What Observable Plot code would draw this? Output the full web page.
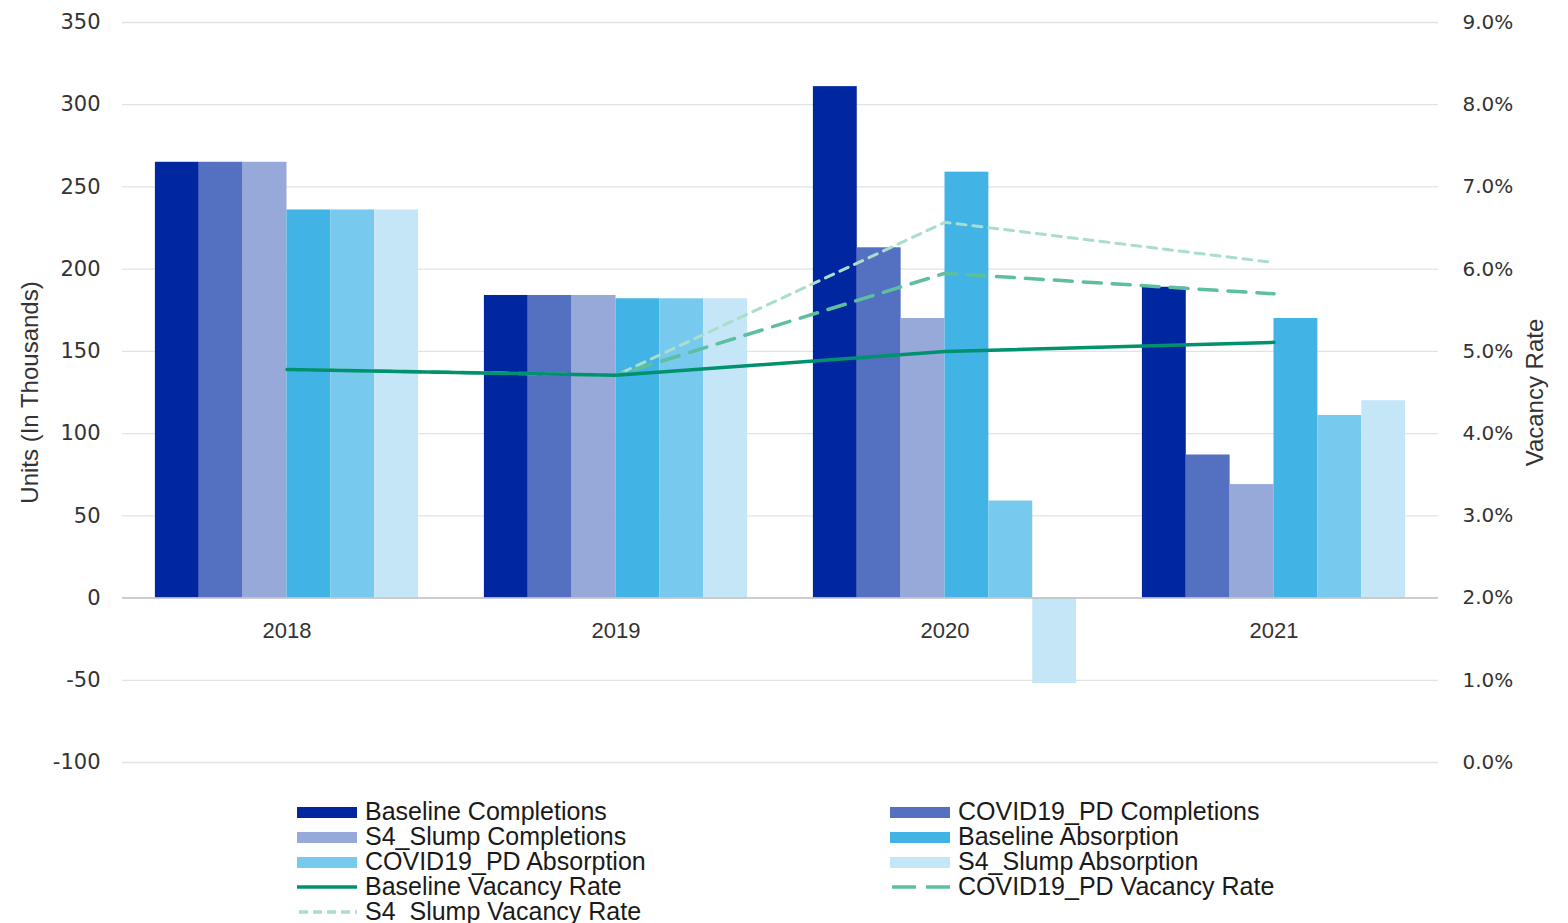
<!DOCTYPE html>
<html><head><meta charset="utf-8">
<script src="https://cdn.jsdelivr.net/npm/d3@7"></script>
<script src="https://cdn.jsdelivr.net/npm/@observablehq/plot@0.6"></script>
<style>
body{margin:0;background:#fff;font-family:"Liberation Sans",Arial,sans-serif;}
#legend{display:grid;grid-template-columns:593px 593px;margin-left:297px;margin-top:9px;}
.item{display:flex;align-items:center;height:25px;font-size:25px;color:#1a1a1a;white-space:nowrap}
.item svg{margin-right:8px;flex:none}
</style></head><body><div id="chart"></div><div id="legend"></div>
<script>
const years = ["2018", "2019", "2020", "2021"];
const barSeries = ["Baseline Completions", "COVID19_PD Completions", "S4_Slump Completions", "Baseline Absorption", "COVID19_PD Absorption", "S4_Slump Absorption"];
const barColors = ["#0026a0", "#5470c1", "#97a9d9", "#41b4e5", "#78c9ee", "#c4e6f6"];
const baselineCompletions = [265, 184, 311, 189];
const covidCompletions = [265, 184, 213, 87];
const s4Completions = [265, 184, 170, 69];
const baselineAbsorption = [236, 182, 259, 170];
const covidAbsorption = [236, 182, 59, 111];
const s4Absorption = [236, 182, -52, 120];
const lineSeries = ["Baseline Vacancy Rate", "COVID19_PD Vacancy Rate", "S4_Slump Vacancy Rate"];
const lineColors = ["#00916e", "#5ebfa0", "#a9ddcc"];
const baselineVacancy = [4.78, 4.71, 5.00, 5.11];
const covidVacancy = [4.78, 4.71, 5.95, 5.70];
const s4Vacancy = [4.78, 4.71, 6.57, 6.08];
const leftTicks = [-100, -50, 0, 50, 100, 150, 200, 250, 300, 350];
const rightTicks = ["0.0%", "1.0%", "2.0%", "3.0%", "4.0%", "5.0%", "6.0%", "7.0%", "8.0%", "9.0%"];

const barValues = [baselineCompletions, covidCompletions, s4Completions, baselineAbsorption, covidAbsorption, s4Absorption];
const nb = barSeries.length, groupW = 0.8, bw = groupW / nb;
const bars = [];
barValues.forEach((vals, k) => vals.forEach((v, i) => bars.push({series: barSeries[k], year: years[i], value: v, x1: i - groupW / 2 + k * bw, x2: i - groupW / 2 + (k + 1) * bw})));
// vacancy rate (%) mapped onto the units axis: 2% <-> 0, 9% <-> 350
const toUnits = r => (r - 2) * 50;
const mkLine = (vals, name) => vals.map((v, i) => ({series: name, i, rate: v}));
const lineData = [mkLine(baselineVacancy, lineSeries[0]), mkLine(covidVacancy, lineSeries[1]), mkLine(s4Vacancy, lineSeries[2])];
const rightTickData = rightTicks.map((t, j) => ({label: t, rate: j}));

const chart = Plot.plot({
  width: 1568, height: 790,
  marginLeft: 122, marginRight: 130, marginTop: 22, marginBottom: 28,
  x: {domain: [-0.5, 3.5], axis: null},
  y: {domain: [-100, 350], axis: null},
  color: {domain: barSeries, range: barColors},
  marks: [
    Plot.ruleY(leftTicks.filter(d => d !== 0), {stroke: "#e3e3e3", strokeWidth: 1.3}),
    Plot.rect(bars, {x1: "x1", x2: "x2", y1: 0, y2: "value", fill: "series"}),
    Plot.ruleY([0], {stroke: "#bdbdbd", strokeWidth: 1.5}),
    Plot.line(lineData[2], {x: "i", y: d => toUnits(d.rate), stroke: lineColors[2], strokeWidth: 3, strokeDasharray: "9,7"}),
    Plot.line(lineData[1], {x: "i", y: d => toUnits(d.rate), stroke: lineColors[1], strokeWidth: 3.5, strokeDasharray: "18,11"}),
    Plot.line(lineData[0], {x: "i", y: d => toUnits(d.rate), stroke: lineColors[0], strokeWidth: 3.5}),
    Plot.text(years, {x: (d, i) => i, y: 0, text: d => d, dy: 33, fontSize: 22, fill: "#333", fontFamily: "Liberation Sans, Arial, sans-serif"}),
    Plot.text(leftTicks, {x: -0.5, y: d => d, text: d => String(d), dx: -22, textAnchor: "end", fontSize: 21, fill: "#333", fontFamily: "DejaVu Sans, sans-serif"}),
    Plot.text(rightTickData, {x: 3.5, y: d => toUnits(d.rate), text: "label", dx: 24, textAnchor: "start", fontSize: 20, fill: "#333", fontFamily: "DejaVu Sans, sans-serif"}),
    Plot.text(["Units (In Thousands)"], {frameAnchor: "left", textAnchor: "middle", dx: -92, rotate: -90, fontSize: 24, fill: "#333", fontFamily: "Liberation Sans, Arial, sans-serif"}),
    Plot.text(["Vacancy Rate"], {frameAnchor: "right", textAnchor: "middle", dx: 97, rotate: -90, fontSize: 24, fill: "#333", fontFamily: "Liberation Sans, Arial, sans-serif"})
  ]
});
document.getElementById("chart").appendChild(chart);

// legend
const legendItems = [
  ...barSeries.map((s, k) => ({name: s, type: "bar", color: barColors[k]})),
  {name: lineSeries[0], type: "line", color: lineColors[0], dash: null},
  {name: lineSeries[1], type: "line", color: lineColors[1], dash: "24,10"},
  {name: lineSeries[2], type: "line", color: lineColors[2], dash: "9,5"}
];
const leg = document.getElementById("legend");
legendItems.forEach(it => {
  const div = document.createElement("div");
  div.className = "item";
  const sw = it.type === "bar"
    ? `<svg width="60" height="12"><rect x="0" y="1" width="60" height="11" fill="${it.color}"/></svg>`
    : `<svg width="60" height="12"><line x1="${it.dash ? 2 : 0}" x2="60" y1="6" y2="6" stroke="${it.color}" stroke-width="3.5" ${it.dash ? `stroke-dasharray="${it.dash}"` : ""}/></svg>`;
  div.innerHTML = sw + `<span>${it.name}</span>`;
  leg.appendChild(div);
});
</script></body></html>
